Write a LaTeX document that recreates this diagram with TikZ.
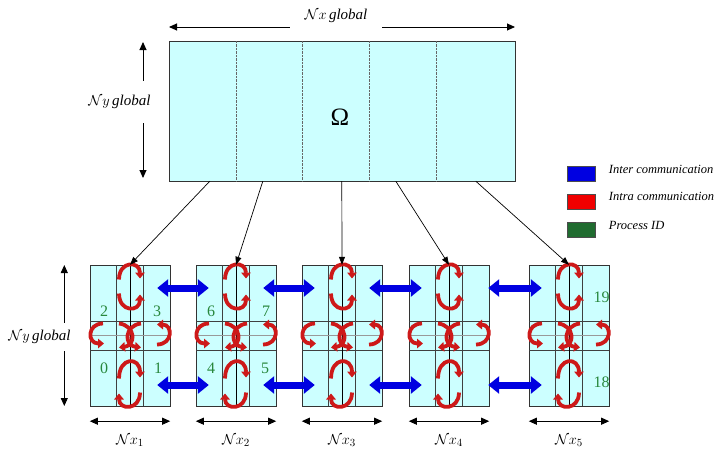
\documentclass[tikz,border=0pt]{standalone}
\usepackage{fontspec}
\setmainfont{Liberation Serif}
\usetikzlibrary{arrows.meta, positioning, calc}
\definecolor{domcyan}{RGB}{204,255,255}
\definecolor{interblue}{RGB}{0,0,225}
\definecolor{intrared}{RGB}{205,25,25}
\definecolor{keyred}{RGB}{240,0,0}
\definecolor{idgreen}{RGB}{40,135,60}

\begin{document}
\begin{tikzpicture}[x=1pt, y=-1pt,
  dimarrow/.style={line width=0.9pt, {Triangle[length=8pt,width=7pt]}-{Triangle[length=8pt,width=7pt]}},
  dimhalf/.style={line width=0.9pt, -{Triangle[length=8pt,width=7pt]}},
  dimlab/.style={font=\fontsize{15}{17}\selectfont\itshape, inner sep=0pt},
  blk/.style={draw=black!80, fill=domcyan, minimum width=80pt, minimum height=141pt, inner sep=0pt},
  feed/.style={line width=0.7pt, -{Triangle[length=8pt,width=6pt]}},
  inter/.style={draw=interblue, line width=7pt, {Triangle[length=11pt,width=17pt]}-{Triangle[length=11pt,width=17pt]}},
  intra/.style={draw=intrared, line width=3.8pt, -{Triangle[length=6pt,width=9.5pt]}},
  pid/.style={text=idgreen, font=\fontsize{16}{18}\selectfont, inner sep=0pt},
  keybox/.style={draw=black!70, minimum width=28pt, minimum height=15pt, inner sep=0pt},
  keytext/.style={font=\fontsize{12.5}{14}\selectfont\itshape, inner sep=0pt, yshift=5pt}
]
\useasboundingbox (0,0) rectangle (718,448);

% global domain
\node[draw=black!80, fill=domcyan, minimum width=346pt, minimum height=140pt, inner sep=0pt] (dom) at (342,111) {};
\foreach \dx in {67.7,133.7,200.3,267.7}
  \draw[densely dotted, black!60] ([xshift=\dx pt]dom.north west) -- ([xshift=\dx pt]dom.south west);
\node[font=\fontsize{25}{28}\selectfont] (om) at (340,117) {Ω};

% global sizes
\node[dimlab, minimum width=92pt] (nxg) at (336,16) {$\mathcal{N}x$\,global};
\coordinate (nxL) at (169,27);
\coordinate (nxR) at (515,27);
\draw[dimhalf] (nxg.west |- nxL) -- (nxL);
\draw[dimhalf] (nxg.east |- nxR) -- (nxR);

\node[dimlab, minimum height=42pt] (nyg) at (119.5,102) {$\mathcal{N}y$\,global};
\coordinate (nyT) at (143,42);
\coordinate (nyB) at (143,178);
\draw[dimhalf] (nyT |- nyg.north) -- (nyT);
\draw[dimhalf] (nyT |- nyg.south) -- (nyB);

% legend
\node[keybox, fill=interblue] (kInter) at (581.5,174) {};
\node[keybox, fill=keyred] (kIntra) at (581.5,201.5) {};
\node[keybox, fill=idgreen!80!black] (kPid) at (581.5,230) {};
\node[keytext, anchor=west, right=13pt of kInter] (tInter) {Inter communication};
\node[keytext, anchor=west, right=13pt of kIntra] (tIntra) {Intra communication};
\node[keytext, anchor=west, right=13pt of kPid] (tPid) {Process ID};

% subdomains, one per process
\foreach \i/\cx in {1/130,2/236,3/342,4/449,5/569} {
  \node[blk] (b\i) at (\cx,335.5) {};
  \begin{scope}[shift={(\cx,335.5)}]
    \draw[black!75, line width=0.6pt] (-13.3,-70.5) -- (-13.3,70.5) (13.3,-70.5) -- (13.3,70.5)
      (-40,-14.5) -- (40,-14.5) (-40,14.5) -- (40,14.5);
    \draw[black!40] (-40,0) -- (40,0);
    \draw[black, line width=0.6pt] (0,-70.5) -- (0,70.5);
    % intra exchanges
    \draw[intra] (-11,-56) .. controls (-11,-75) and (10,-75) .. (10,-57);
    \draw[intra] (-11,-42) .. controls (-11,-23) and (10,-23) .. (10,-41);
    \draw[intra] (-11,43) .. controls (-11,21) and (10,21) .. (10,42);
    \draw[intra] (10,57) .. controls (10,75) and (-11,75) .. (-11,58);
    \draw[intra] (-27,-12) .. controls (-43,-12) and (-43,8) .. (-26,8);
    \draw[intra] (27,9) .. controls (43,9) and (43,-11) .. (27,-11);
    \draw[intra] (-11,-12) .. controls (6,-10) and (6,10) .. (-11,12);
    \draw[intra] (11,-12) .. controls (-6,-10) and (-6,10) .. (11,12);
  \end{scope}
  \draw[dimarrow] ([yshift=-15pt]b\i.south west) -- ([yshift=-15pt]b\i.south east);
  \node[dimlab] (nx\i) at ([yshift=-34pt]b\i.south) {$\mathcal{N}x_\i$};
}

% inter exchanges
\foreach \a/\b/\s in {1/2/13,2/3/13,3/4/13,4/5/1} {
  \draw[inter] ([xshift=-\s pt, yshift=47.5pt]b\a.east) -- ([xshift=13pt, yshift=47.5pt]b\b.west);
  \draw[inter] ([xshift=-\s pt, yshift=-49.5pt]b\a.east) -- ([xshift=13pt, yshift=-49.5pt]b\b.west);
}

% splitting of the domain
\foreach \i/\dx in {1/41,2/94,3/173,4/227,5/307}
  \draw[feed] ([xshift=\dx pt]dom.south west) -- (b\i.north);

% process ids
\node[pid] (p2) at (104,311) {2};
\node[pid] (p3) at (157,311) {3};
\node[pid] (p0) at (104,368) {0};
\node[pid] (p1) at (158,368) {1};
\node[pid] (p6) at (211,311) {6};
\node[pid] (p7) at (266,311) {7};
\node[pid] (p4) at (211,368) {4};
\node[pid] (p5) at (265,368) {5};
\node[pid] (p19) at (601.5,297) {19};
\node[pid] (p18) at (601.5,382) {18};

% local height
\node[dimlab, minimum height=28pt] (nyl) at (39.5,337) {$\mathcal{N}y$\,global};
\coordinate (nylT) at (64.3,265);
\coordinate (nylB) at (64.3,406);
\draw[dimhalf] (nylT |- nyl.north) -- (nylT);
\draw[dimhalf] (nylT |- nyl.south) -- (nylB);
\end{tikzpicture}
\end{document}
